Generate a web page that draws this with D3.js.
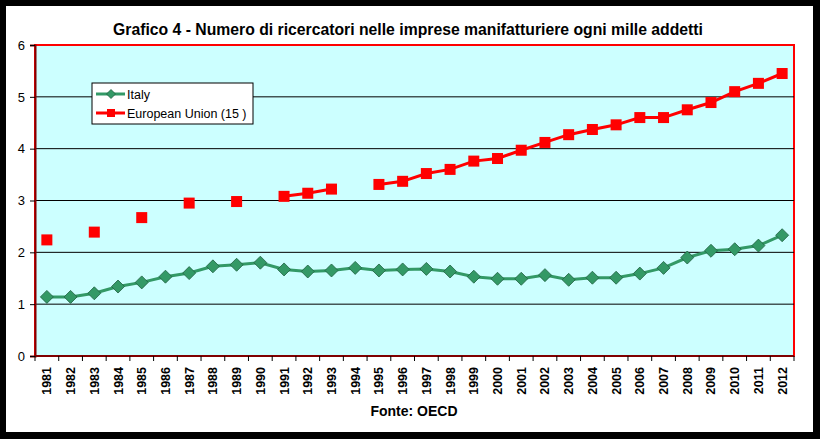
<!DOCTYPE html>
<html>
<head>
<meta charset="utf-8">
<script src="https://cdn.jsdelivr.net/npm/d3@7"></script>
<style>
body { margin: 0; background: #000; }
svg { display: block; font-family: "Liberation Sans", Arial, sans-serif; }
</style>
</head>
<body>
<div id="vis"></div>
<script>
var w = 820;
var h = 439;

// dati
var years = [1981, 1982, 1983, 1984, 1985, 1986, 1987, 1988, 1989, 1990, 1991, 1992, 1993, 1994, 1995, 1996,
	1997, 1998, 1999, 2000, 2001, 2002, 2003, 2004, 2005, 2006, 2007, 2008, 2009, 2010, 2011, 2012];
var italy = [1.14, 1.14, 1.21, 1.34, 1.42, 1.53, 1.60, 1.73, 1.76, 1.80, 1.67, 1.63, 1.65, 1.70, 1.65, 1.67,
	1.68, 1.63, 1.53, 1.49, 1.49, 1.56, 1.47, 1.51, 1.51, 1.59, 1.70, 1.90, 2.03, 2.06, 2.13, 2.33];
var eu15 = [2.24, null, 2.39, null, 2.67, null, 2.95, null, 2.98, null, 3.08, 3.14, 3.22, null, 3.31, 3.37,
	3.52, 3.60, 3.76, 3.81, 3.97, 4.12, 4.27, 4.37, 4.46, 4.60, 4.60, 4.75, 4.89, 5.10, 5.26, 5.45];
var yTicks = [0, 1, 2, 3, 4, 5, 6];
var seriesNames = ["Italy", "European Union (15 )"];

var pLeft = 35, pRight = 794, pTop = 45, pBottom = 356;

var svg = d3.select("#vis")
	.append("svg")
	.attr("width", w)
	.attr("height", h);

// cornice
svg.append("rect")
	.attr("width", w).attr("height", h)
	.attr("fill", "#000");
svg.append("rect")
	.attr("x", 6).attr("y", 6)
	.attr("width", 807).attr("height", 426)
	.attr("fill", "#fff");

var x = d3.scaleBand().domain(years).range([pLeft, pRight]).padding(0);
var y = d3.scaleLinear().domain([0, 6]).range([pBottom, pTop]);

// titolo
svg.append("text")
	.text("Grafico 4 - Numero di ricercatori nelle imprese manifatturiere ogni mille addetti")
	.attr("x", 408)
	.attr("y", 35)
	.attr("text-anchor", "middle")
	.attr("textLength", 590)
	.attr("lengthAdjust", "spacingAndGlyphs")
	.style("font-size", "16.5px")
	.style("font-weight", "bold");

// area del grafico
svg.append("rect")
	.attr("x", pLeft).attr("y", pTop)
	.attr("width", pRight - pLeft).attr("height", pBottom - pTop)
	.attr("fill", "#ccffff")
	.attr("stroke", "#ff0000")
	.attr("stroke-width", 2);

// griglia
svg.selectAll(".grid")
	.data(yTicks.filter(function(d) { return d > 0 && d < 6; }))
	.enter()
	.append("line")
	.attr("class", "grid")
	.attr("x1", pLeft).attr("x2", pRight)
	.attr("y1", function(d) { return y(d); })
	.attr("y2", function(d) { return y(d); })
	.attr("stroke", "#000")
	.attr("stroke-width", 1);

// asse Y
var yAxis = svg.append("g")
	.attr("transform", "translate(" + pLeft + ",0)")
	.call(d3.axisLeft(y).tickValues(yTicks).tickSize(5).tickPadding(5).tickFormat(d3.format("d")));
yAxis.select(".domain").attr("stroke", "#800000").attr("stroke-width", 2);
yAxis.selectAll(".tick line").attr("stroke", "#000");
yAxis.selectAll(".tick text")
	.style("font-size", "13px")
	.style("font-family", "'Liberation Sans', Arial, sans-serif");

// asse X
svg.append("line")
	.attr("x1", pLeft).attr("x2", pRight)
	.attr("y1", pBottom).attr("y2", pBottom)
	.attr("stroke", "#800000")
	.attr("stroke-width", 2);

svg.selectAll(".xtick")
	.data(years.concat(["end"]))
	.enter()
	.append("line")
	.attr("class", "xtick")
	.attr("x1", function(d) { return d === "end" ? pRight : x(d); })
	.attr("x2", function(d) { return d === "end" ? pRight : x(d); })
	.attr("y1", pBottom)
	.attr("y2", pBottom + 5)
	.attr("stroke", "#000");

svg.selectAll(".xlabel")
	.data(years)
	.enter()
	.append("text")
	.attr("class", "xlabel")
	.text(function(d) { return d; })
	.attr("transform", function(d) {
		return "translate(" + (x(d) + x.bandwidth() / 2 + 4.5) + "," + (pBottom + 11) + ") rotate(-90)";
	})
	.attr("text-anchor", "end")
	.style("font-size", "12.5px")
	.style("font-weight", "bold");

// fonte
svg.append("text")
	.text("Fonte: OECD")
	.attr("x", 414)
	.attr("y", 416)
	.attr("text-anchor", "middle")
	.style("font-size", "14px")
	.style("font-weight", "bold");

function cx(i) { return x(years[i]) + x.bandwidth() / 2; }

// linee
var line = d3.line()
	.defined(function(d) { return d !== null; })
	.x(function(d, i) { return cx(i); })
	.y(function(d) { return y(d); });

svg.append("path")
	.datum(eu15)
	.attr("d", line)
	.attr("fill", "none")
	.attr("stroke", "#ff0000")
	.attr("stroke-width", 3);

svg.append("path")
	.datum(italy)
	.attr("d", line)
	.attr("fill", "none")
	.attr("stroke", "#339966")
	.attr("stroke-width", 3);

// marcatori
var euPts = eu15.map(function(v, i) { return {v: v, i: i}; }).filter(function(d) { return d.v !== null; });
svg.selectAll(".eu")
	.data(euPts)
	.enter()
	.append("rect")
	.attr("class", "eu")
	.attr("x", function(d) { return cx(d.i) - 5.5; })
	.attr("y", function(d) { return y(d.v) - 5.5; })
	.attr("width", 11).attr("height", 11)
	.attr("fill", "#ff0000");

var diamond = "M0,-6.5L6.5,0L0,6.5L-6.5,0Z";
svg.selectAll(".it")
	.data(italy)
	.enter()
	.append("path")
	.attr("class", "it")
	.attr("d", diamond)
	.attr("transform", function(d, i) { return "translate(" + cx(i) + "," + y(d) + ")"; })
	.attr("fill", "#339966")
	.attr("stroke", "#1f6040")
	.attr("stroke-width", 0.8);

// legenda
var lg = svg.append("g").attr("transform", "translate(92,83)");
lg.append("rect")
	.attr("width", 161).attr("height", 41)
	.attr("fill", "#fff")
	.attr("stroke", "#000")
	.attr("stroke-width", 1);

lg.append("line").attr("x1", 4).attr("x2", 33).attr("y1", 11).attr("y2", 11)
	.attr("stroke", "#339966").attr("stroke-width", 3);
lg.append("path").attr("d", "M0,-4.5L4.5,0L0,4.5L-4.5,0Z")
	.attr("transform", "translate(19,11)")
	.attr("fill", "#339966").attr("stroke", "#1f6040").attr("stroke-width", 0.8);
lg.append("line").attr("x1", 4).attr("x2", 33).attr("y1", 30).attr("y2", 30)
	.attr("stroke", "#ff0000").attr("stroke-width", 3);
lg.append("rect").attr("x", 15).attr("y", 26).attr("width", 8).attr("height", 8)
	.attr("fill", "#ff0000");

lg.selectAll(".lgtext")
	.data(seriesNames)
	.enter()
	.append("text")
	.attr("class", "lgtext")
	.text(function(d) { return d; })
	.attr("x", 35)
	.attr("y", function(d, i) { return 15.5 + i * 19; })
	.style("font-size", "12.5px");
</script>
</body>
</html>
